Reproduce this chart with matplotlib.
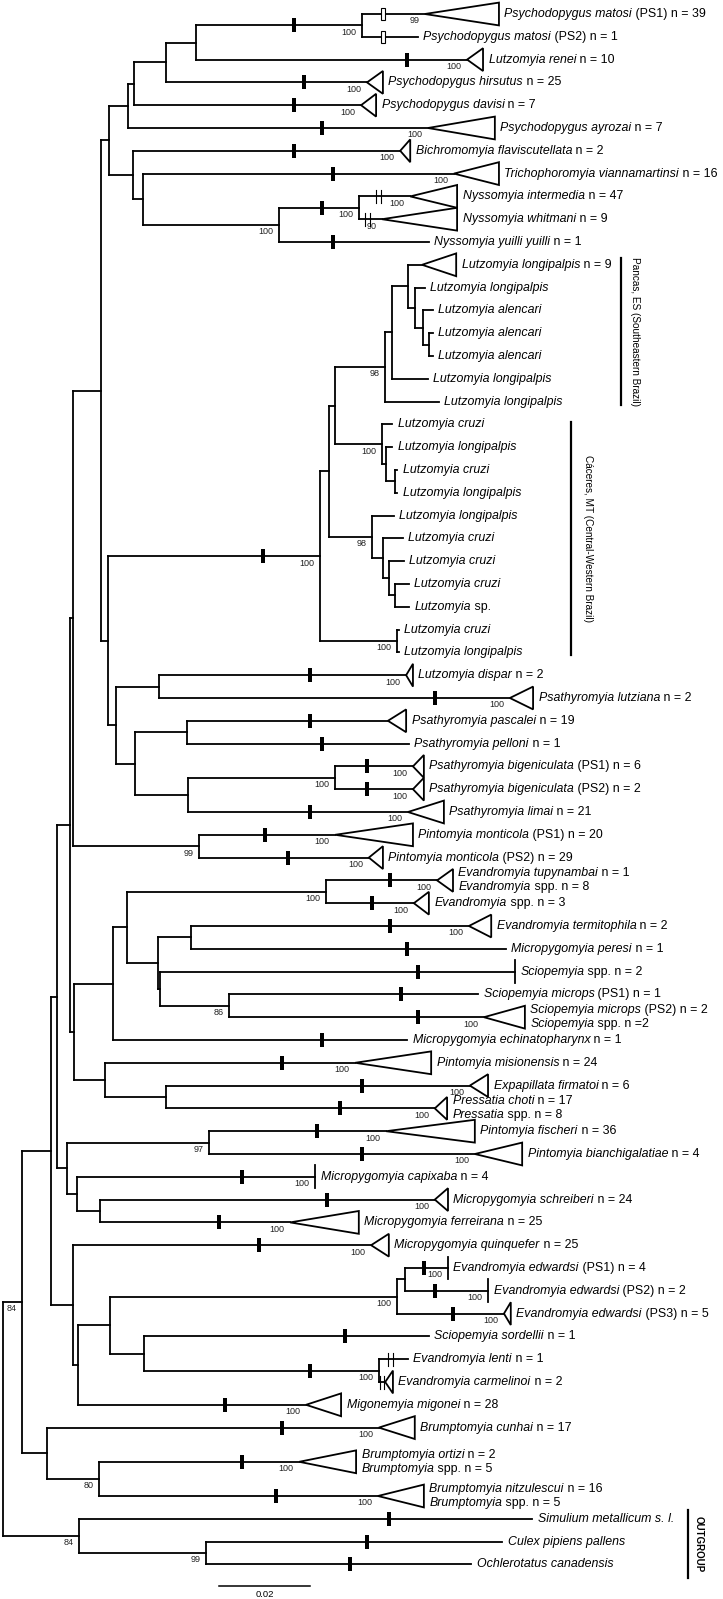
import matplotlib
matplotlib.use("Agg")
import matplotlib.pyplot as plt
from matplotlib.patches import Polygon, Rectangle

plt.rcParams['font.family'] = ['Liberation Sans', 'DejaVu Sans']

# internal nodes: parent and distance from root (subst./site)
node_parent = {
    "IN": "root", "JJ": "IN", "FA": "JJ", "FB": "FA", "FC": "FB", "L": "FC",
    "F": "L", "E": "F", "D": "E", "C": "D", "B": "C", "A": "B",
    "G": "F", "H": "G", "I": "H", "J": "I",
    "M": "L", "P": "M", "Q": "P", "V": "Q", "S": "V", "W": "S", "X": "W",
    "Y": "X", "Z": "Y", "AA": "Z", "T": "V", "AB": "T", "AC": "AB",
    "U": "Q", "AD": "U", "AE": "AD", "AF": "AE", "R": "P",
    "BA": "M", "BB": "BA", "BC": "BA", "BD": "BC", "BE": "BC", "BF": "BE",
    "BG": "FC", "FD": "FB", "CA": "FD", "CB": "CA", "CC": "CB", "CD": "CB",
    "CE": "CD", "CF": "CD", "CG": "CF", "DA": "FD", "DB": "DA",
    "EB": "FA", "EA": "EB", "EC": "EB", "ED": "EC",
    "GA": "JJ", "GE": "GA", "GD": "GE", "GB": "GD", "GF": "GB", "GC": "GD",
    "GG": "GC", "BR": "IN", "BS": "BR", "OG": "root", "CO": "OG",
}
node_depth = {
    "root": 0.0, "IN": 0.0042, "JJ": 0.0105, "FA": 0.0119, "FB": 0.0147,
    "FC": 0.0154, "L": 0.0215, "F": 0.0233, "E": 0.0275, "D": 0.0288,
    "C": 0.0358, "B": 0.0424, "A": 0.0789, "G": 0.0286, "H": 0.0308,
    "I": 0.0607, "J": 0.0782, "M": 0.0231, "P": 0.0697, "Q": 0.0716,
    "V": 0.0730, "S": 0.0840, "W": 0.0855, "X": 0.0890, "Y": 0.0905,
    "Z": 0.0923, "AA": 0.0936, "T": 0.0833, "AB": 0.0842, "AC": 0.0862,
    "U": 0.0811, "AD": 0.0835, "AE": 0.0848, "AF": 0.0862, "R": 0.0866,
    "BA": 0.0248, "BB": 0.0343, "BC": 0.0290, "BD": 0.0404, "BE": 0.0407,
    "BF": 0.0730, "BG": 0.0431, "FD": 0.0156, "CA": 0.0242, "CB": 0.0273,
    "CC": 0.0710, "CD": 0.0341, "CE": 0.0413, "CF": 0.0345, "CG": 0.0497,
    "DA": 0.0224, "DB": 0.0358, "EB": 0.0141, "EA": 0.0453, "EC": 0.0163,
    "ED": 0.0213, "GA": 0.0154, "GE": 0.0165, "GD": 0.0235, "GB": 0.0866,
    "GF": 0.0884, "GC": 0.0310, "GG": 0.0826, "BR": 0.0097, "BS": 0.0211,
    "OG": 0.0167, "CO": 0.0446,
}
node_boot = {"IN": 84, "A": 100, "I": 100, "J": 100, "P": 100, "S": 98,
             "T": 100, "U": 98, "R": 100, "BF": 100, "BG": 99, "CC": 100,
             "CG": 86, "EA": 97, "GB": 100, "GG": 100, "BS": 80, "OG": 84,
             "CO": 99}
stem_tick = {"A": 0.0640, "J": 0.0701, "P": 0.0571, "GG": 0.0675}

# terminal taxa (top to bottom)
leaf_labels = [
    [("Psychodopygus matosi", " (PS1) n = 39")],
    [("Psychodopygus matosi", " (PS2) n = 1")],
    [("Lutzomyia renei", " n = 10")],
    [("Psychodopygus hirsutus", " n = 25")],
    [("Psychodopygus davisi", " n = 7")],
    [("Psychodopygus ayrozai", " n = 7")],
    [("Bichromomyia flaviscutellata", " n = 2")],
    [("Trichophoromyia viannamartinsi", " n = 16")],
    [("Nyssomyia intermedia", " n = 47")],
    [("Nyssomyia whitmani", " n = 9")],
    [("Nyssomyia yuilli yuilli", " n = 1")],
    [("Lutzomyia longipalpis", " n = 9")],
    [("Lutzomyia longipalpis", "")],
    [("Lutzomyia alencari", "")],
    [("Lutzomyia alencari", "")],
    [("Lutzomyia alencari", "")],
    [("Lutzomyia longipalpis", "")],
    [("Lutzomyia longipalpis", "")],
    [("Lutzomyia cruzi", "")],
    [("Lutzomyia longipalpis", "")],
    [("Lutzomyia cruzi", "")],
    [("Lutzomyia longipalpis", "")],
    [("Lutzomyia longipalpis", "")],
    [("Lutzomyia cruzi", "")],
    [("Lutzomyia cruzi", "")],
    [("Lutzomyia cruzi", "")],
    [("Lutzomyia", " sp.")],
    [("Lutzomyia cruzi", "")],
    [("Lutzomyia longipalpis", "")],
    [("Lutzomyia dispar", " n = 2")],
    [("Psathyromyia lutziana", " n = 2")],
    [("Psathyromyia pascalei", " n = 19")],
    [("Psathyromyia pelloni", " n = 1")],
    [("Psathyromyia bigeniculata", " (PS1) n = 6")],
    [("Psathyromyia bigeniculata", " (PS2) n = 2")],
    [("Psathyromyia limai", " n = 21")],
    [("Pintomyia monticola", " (PS1) n = 20")],
    [("Pintomyia monticola", " (PS2) n = 29")],
    [("Evandromyia tupynambai", " n = 1"), ("Evandromyia", " spp. n = 8")],
    [("Evandromyia", " spp. n = 3")],
    [("Evandromyia termitophila", " n = 2")],
    [("Micropygomyia peresi", " n = 1")],
    [("Sciopemyia", " spp. n = 2")],
    [("Sciopemyia microps", " (PS1) n = 1")],
    [("Sciopemyia microps", " (PS2) n = 2"), ("Sciopemyia", " spp. n =2")],
    [("Micropygomyia echinatopharynx", " n = 1")],
    [("Pintomyia misionensis", " n = 24")],
    [("Expapillata firmatoi", " n = 6")],
    [("Pressatia choti", " n = 17"), ("Pressatia", " spp. n = 8")],
    [("Pintomyia fischeri", " n = 36")],
    [("Pintomyia bianchigalatiae", " n = 4")],
    [("Micropygomyia capixaba", " n = 4")],
    [("Micropygomyia schreiberi", " n = 24")],
    [("Micropygomyia ferreirana", " n = 25")],
    [("Micropygomyia quinquefer", " n = 25")],
    [("Evandromyia edwardsi", " (PS1) n = 4")],
    [("Evandromyia edwardsi", " (PS2) n = 2")],
    [("Evandromyia edwardsi", " (PS3) n = 5")],
    [("Sciopemyia sordellii", " n = 1")],
    [("Evandromyia lenti", " n = 1")],
    [("Evandromyia carmelinoi", " n = 2")],
    [("Migonemyia migonei", " n = 28")],
    [("Brumptomyia cunhai", " n = 17")],
    [("Brumptomyia ortizi", " n = 2"), ("Brumptomyia", " spp. n = 5")],
    [("Brumptomyia nitzulescui", " n = 16"), ("Brumptomyia", " spp. n = 5")],
    [("Simulium metallicum s. l.", "")],
    [("Culex pipiens pallens", "")],
    [("Ochlerotatus canadensis", "")],
]
leaf_row = list(range(0, 63)) + [63.5, 65, 66, 67, 68]
leaf_parent = ["A", "A", "B", "C", "D", "E", "G", "H", "J", "J", "I",
               "X", "Y", "Z", "AA", "AA", "W", "S", "T", "AB", "AC", "AC",
               "U", "AD", "AE", "AF", "AF", "R", "R",
               "BB", "BB", "BD", "BD", "BF", "BF", "BE", "BG", "BG",
               "CC", "CC", "CE", "CE", "CF", "CG", "CG", "CA",
               "DA", "DB", "DB", "EA", "EA", "EC", "ED", "ED",
               "GA", "GF", "GF", "GB", "GC", "GG", "GG", "GE",
               "BR", "BS", "BS", "OG", "CO", "CO"]
leaf_tip = [0.0927, 0.0912, 0.1020, 0.0800, 0.0787, 0.0934, 0.0873, 0.0991,
            0.0895, 0.0833, 0.0936,
            0.0921, 0.0927, 0.0945, 0.0945, 0.0945, 0.0934, 0.0958, 0.0855,
            0.0855, 0.0866, 0.0866, 0.0859, 0.0879, 0.0881, 0.0892, 0.0892,
            0.0870, 0.0870,
            0.0886, 0.1114, 0.0846, 0.0892, 0.0901, 0.0901, 0.0890, 0.0730,
            0.0804, 0.0954, 0.0903, 0.1024, 0.1105, 0.1125, 0.1044, 0.1057,
            0.0888, 0.0774, 0.1026, 0.0949, 0.0842, 0.1037, 0.0686, 0.0949,
            0.0631, 0.0809, 0.0978, 0.1066, 0.1101, 0.0936, 0.0890, 0.0840,
            0.0666, 0.0826, 0.0651, 0.0824, 0.1163, 0.1097, 0.1029]
# collapsed clades: depth of triangle base, "bar" = zero-width clade
leaf_clade = [0.1090, None, 0.1055, 0.0835, 0.0820, 0.1081, 0.0895, 0.1090,
              0.0998, 0.0998, None,
              0.0996, None, None, None, None, None, None, None, None, None,
              None, None, None, None, None, None, None, None,
              0.0901, 0.1165, 0.0886, None, 0.0925, 0.0925, 0.0969, 0.0901,
              0.0835, 0.0989, 0.0936, 0.1073, None, "bar", None, 0.1147,
              None, 0.0941, 0.1066, 0.0976, 0.1037, 0.1141, "bar", 0.0978,
              0.0782, 0.0848, "bar", "bar", 0.1116, None, None, 0.0857,
              0.0743, 0.0905, 0.0776, 0.0925, None, None, None]
leaf_tick = [0.0835, 0.0835, 0.0888, 0.0662, 0.0640, 0.0701, 0.0640, 0.0725,
             0.0825, 0.0801, 0.0725,
             None, None, None, None, None, None, None, None, None, None,
             None, None, None, None, None, None, None, None,
             0.0675, 0.0949, 0.0675, 0.0701, 0.0800, 0.0800, 0.0675, 0.0576,
             0.0626, 0.0851, 0.0811, 0.0851, 0.0888, 0.0912, 0.0875, 0.0912,
             0.0701, 0.0613, 0.0789, 0.0741, 0.0690, 0.0789, 0.0525, 0.0712,
             0.0475, 0.0563, 0.0925, 0.0949, 0.0989, 0.0752, 0.0851, 0.0833,
             0.0488, 0.0613, 0.0525, 0.0600, 0.0848, 0.0800, 0.0763]
leaf_tick_kind = ["open", "open"] + ["solid"] * 6 + ["double", "double", "solid"] \
    + [None] * 18 + ["solid"] * 30 + ["double", "double"] + ["solid"] * 7
leaf_boot = [99, None, 100, 100, 100, 100, 100, 100, 100, 90, None,
             None, None, None, None, None, None, None, None, None, None,
             None, None, None, None, None, None, None, None,
             100, 100, None, None, 100, 100, 100, 100, 100, 100, 100, 100,
             None, None, None, 100, None, 100, 100, 100, 100, 100, 100, 100,
             100, 100, 100, 100, 100, None, None, None, 100, 100, 100, 100,
             None, None, None]

group_names = ["Pancas, ES (Southeastern Brazil)",
               "Cáceres, MT (Central-Western Brazil)", "OUTGROUP"]
group_rows = [(10.7, 17.15), (17.9, 28.1), (65.6, 68.6)]
group_bar_x = [0.1358, 0.1248, 0.1505]
group_text_x = [0.1389, 0.1285, 0.1528]

scale_len = 0.02
scale_start = 0.0475

# ---- layout: 4550 px per subst./site, 22.8 px per row ----
PX = 1 / 4550.0
PY = 1 / 22.8
LW = 1.3
FS = 8.9

fig = plt.figure(figsize=(7.23, 15.99), dpi=100)
ax = fig.add_axes([0, 0, 1, 1])
ax.set_xlim(-3 * PX, 720 * PX)
ax.set_ylim(1585 * PY, -14 * PY)
ax.axis('off')

children = {}
for n, p in node_parent.items():
    children.setdefault(p, []).append(n)
for i, p in enumerate(leaf_parent):
    children.setdefault(p, []).append(i)

ypos = {i: r for i, r in enumerate(leaf_row)}


def node_y(n):
    if n in ypos:
        return ypos[n]
    ys = [node_y(c) for c in children[n]]
    ypos[n] = (min(ys) + max(ys)) / 2
    return ypos[n]


node_y("root")


def line(x0, x1, y0, y1):
    ax.plot([x0, x1], [y0, y1], color='black', lw=LW,
            solid_capstyle='projecting', zorder=2)


def tick(x, y, kind):
    if kind == "solid":
        ax.add_patch(Rectangle((x - 2 * PX, y - 7 * PY), 4 * PX, 14 * PY,
                               facecolor='black', edgecolor='none', zorder=4))
    elif kind == "open":
        ax.add_patch(Rectangle((x - 2 * PX, y - 6 * PY), 4 * PX, 12 * PY,
                               facecolor='white', edgecolor='black', lw=0.8,
                               zorder=4))
    elif kind == "double":
        for dx in (-2.3, 2.3):
            ax.plot([x + dx * PX] * 2, [y - 6.5 * PY, y + 6.5 * PY],
                    color='black', lw=0.8, zorder=4)


def boot(x, y, val):
    ax.annotate(str(val), xy=(x, y), xytext=(-4, -5),
                textcoords='offset points', ha='right', va='center',
                fontsize=6.5, color='#222222')


# internal branches
for n, p in node_parent.items():
    line(node_depth[p], node_depth[n], ypos[n], ypos[n])
for n, ch in children.items():
    ys = [ypos[c] for c in ch]
    line(node_depth[n], node_depth[n], min(ys), max(ys))
for n, x in stem_tick.items():
    tick(x, ypos[n], "solid")
for n, b in node_boot.items():
    boot(node_depth[n], ypos[n], b)

# terminal branches and labels
for i, lab in enumerate(leaf_labels):
    y = leaf_row[i]
    x0 = node_depth[leaf_parent[i]]
    tip = leaf_tip[i]
    line(x0, tip, y, y)
    end = tip
    clade = leaf_clade[i]
    if clade == "bar":
        line(tip, tip, y - 0.5, y + 0.5)
    elif clade is not None:
        ax.add_patch(Polygon([(tip, y), (clade, y - 0.5), (clade, y + 0.5)],
                             closed=True, fill=False, edgecolor='black',
                             lw=LW, joinstyle='miter', zorder=2))
        end = clade
    if leaf_tick[i] is not None:
        tick(leaf_tick[i], y, leaf_tick_kind[i])
    if leaf_boot[i] is not None:
        boot(tip, y, leaf_boot[i])
    if len(lab) == 1:
        offs = [0.0]
    else:
        offs = [-0.31, 0.31]
    for (ital, rest), dy in zip(lab, offs):
        t = ax.text(end + 5.5 * PX, y + dy, ital, style='italic', fontsize=FS,
                    ha='left', va='center')
        if rest:
            ax.annotate(rest, xy=(1, 0), xycoords=t, ha='left', va='bottom',
                        fontsize=FS)

# locality / outgroup bars
for name, (r0, r1), bx, tx in zip(group_names, group_rows, group_bar_x,
                                  group_text_x):
    ax.plot([bx, bx], [r0, r1], color='black', lw=1.6)
    bold = name == "OUTGROUP"
    ax.text(tx, (r0 + r1) / 2, name, rotation=270, ha='center', va='center',
            fontsize=7.2 if not bold else 7.0,
            fontweight='bold' if bold else 'normal')

# scale bar
ax.plot([scale_start, scale_start + scale_len], [68.95, 68.95],
        color='black', lw=1.1)
ax.text(scale_start + scale_len / 2, 69.32, "%.2f" % scale_len, ha='center',
        va='center', fontsize=6.8)

fig.savefig("out.png", dpi=100)
